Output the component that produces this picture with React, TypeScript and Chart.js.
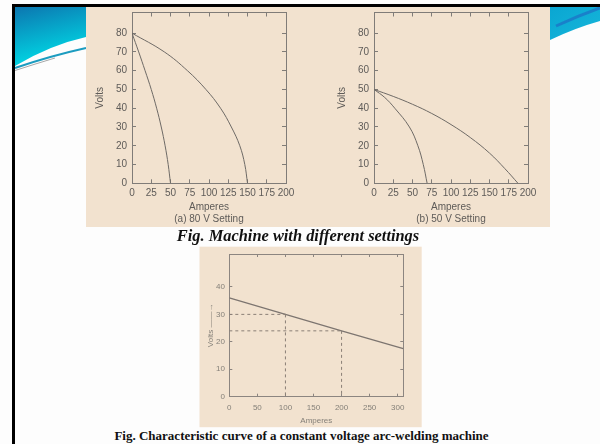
import React, { useEffect, useRef } from "react";
import { Chart, registerables } from "chart.js";

Chart.register(...registerables);

// ---------- data ----------
const ampTicks = [0, 25, 50, 75, 100, 125, 150, 175, 200];
const voltTicks = [0, 10, 20, 30, 40, 50, 60, 70, 80];

const set80InnerAmps = [0, 8.7, 17, 25, 32, 38, 43, 47, 50];
const set80InnerVolts = [80, 70, 60, 50, 40, 30, 20, 10, 0];
const set80OuterAmps = [0, 42, 72, 96, 115, 129, 140, 146.5, 150];
const set80OuterVolts = [80, 70, 60, 50, 40, 30, 20, 10, 0];

const set50InnerAmps = [0, 14, 27, 46, 57, 64, 69];
const set50InnerVolts = [50, 45.7, 40, 30, 20, 10, 0];
const set50OuterAmps = [0, 25, 50, 75, 100, 125, 150, 170, 187];
const set50OuterVolts = [50, 46.3, 42.1, 37.2, 31.3, 24.4, 16.1, 7.8, 0];

const cvAmps = [0, 100, 200, 310];
const cvVolts = [36, 30, 24, 17.5];
const cvAmpTicks = [0, 50, 100, 150, 200, 250, 300];
const cvVoltTicks = [0, 10, 20, 30, 40];
const cvMarkIndex = [1, 2]; // points of cvAmps/cvVolts with dashed guides

// ---------- helpers ----------
const pts = (xs: number[], ys: number[]) => xs.map((x, i) => ({ x, y: ys[i] }));

type Cfg = {
  xMax: number;
  yMax: number;
  xTicks: number[];
  yTicks: number[];
  datasets: any[];
  yWidth: number;
  xHeight: number;
  padding: { left: number; right: number; top: number; bottom: number };
  fontSize: number;
  textColor: string;
  axisColor: string;
  tickLen: number;
  xTickPad: number;
  yTickPad: number;
  xTitle: string | string[];
  yTitle: string;
  yTitlePad: number;
  family: string;
};

const noPad = (s: any) => {
  s.paddingTop = 0;
  s.paddingBottom = 0;
  s.paddingLeft = 0;
  s.paddingRight = 0;
};

function buildConfig(c: Cfg): any {
  const font = { family: c.family, size: c.fontSize, lineHeight: 1.2 };
  const grid = {
    drawOnChartArea: false,
    drawTicks: true,
    tickLength: -c.tickLen,
    color: c.axisColor,
    lineWidth: 1,
  };
  const border = { display: true, color: c.axisColor, width: 1 };
  const setX = (s: any) => {
    s.ticks = c.xTicks.map((v) => ({ value: v }));
  };
  const setY = (s: any) => {
    s.ticks = c.yTicks.map((v) => ({ value: v }));
  };
  return {
    type: "line",
    data: { datasets: c.datasets },
    options: {
      animation: false,
      responsive: false,
      maintainAspectRatio: false,
      devicePixelRatio: 1,
      layout: { padding: c.padding },
      plugins: { legend: { display: false }, tooltip: { enabled: false }, title: { display: false } },
      elements: { point: { radius: 0 } },
      scales: {
        x: {
          type: "linear",
          position: "bottom",
          min: 0,
          max: c.xMax,
          afterBuildTicks: setX,
          afterFit: (s: any) => {
            s.height = c.xHeight;
            noPad(s);
          },
          grid,
          border,
          ticks: {
            autoSkip: false,
            maxRotation: 0,
            minRotation: 0,
            padding: c.xTickPad,
            color: c.textColor,
            font,
          },
          title: {
            display: true,
            text: c.xTitle,
            color: c.textColor,
            font,
            padding: { top: 0, bottom: 0 },
          },
        },
        x2: {
          type: "linear",
          position: "top",
          min: 0,
          max: c.xMax,
          afterBuildTicks: setX,
          afterFit: (s: any) => {
            s.height = 0;
            noPad(s);
          },
          grid,
          border,
          ticks: { display: false },
        },
        y: {
          type: "linear",
          position: "left",
          min: 0,
          max: c.yMax,
          afterBuildTicks: setY,
          afterFit: (s: any) => {
            s.width = c.yWidth;
            noPad(s);
          },
          grid,
          border,
          ticks: { padding: c.yTickPad, color: c.textColor, font, autoSkip: false },
          title: {
            display: true,
            text: c.yTitle,
            color: c.textColor,
            font,
            padding: { top: c.yTitlePad, bottom: 0 },
          },
        },
        y2: {
          type: "linear",
          position: "right",
          min: 0,
          max: c.yMax,
          afterBuildTicks: setY,
          afterFit: (s: any) => {
            s.width = 0;
            noPad(s);
          },
          grid,
          border,
          ticks: { display: false },
        },
      },
    },
  };
}

function ChartBox(props: { left: number; top: number; width: number; height: number; cfg: Cfg }) {
  const ref = useRef<HTMLCanvasElement | null>(null);
  useEffect(() => {
    if (!ref.current) return;
    const chart = new Chart(ref.current, buildConfig(props.cfg));
    return () => chart.destroy();
  }, []);
  return (
    <canvas
      ref={ref}
      width={props.width}
      height={props.height}
      style={{
        position: "absolute",
        left: props.left,
        top: props.top,
        width: props.width,
        height: props.height,
      }}
    />
  );
}

const curveStyle = {
  borderColor: "#6e6a66",
  borderWidth: 1,
  tension: 0.4,
  pointRadius: 0,
  fill: false,
};

const TOP_FONT = "'Liberation Sans', Arial, sans-serif";

const cfg80: Cfg = {
  xMax: 200,
  yMax: 91,
  xTicks: ampTicks,
  yTicks: voltTicks,
  datasets: [
    { ...curveStyle, data: pts(set80InnerAmps, set80InnerVolts) },
    { ...curveStyle, data: pts(set80OuterAmps, set80OuterVolts) },
  ],
  yWidth: 46,
  xHeight: 41.7,
  padding: { left: 0, right: 22, top: 5.5, bottom: 2 },
  fontSize: 10,
  textColor: "#5e5b58",
  axisColor: "#807c78",
  tickLen: 4,
  xTickPad: 8,
  yTickPad: 9,
  xTitle: ["Amperes", "(a) 80 V Setting"],
  yTitle: "Volts",
  yTitlePad: 8,
  family: TOP_FONT,
};

const cfg50: Cfg = {
  ...cfg80,
  datasets: [
    { ...curveStyle, data: pts(set50InnerAmps, set50InnerVolts) },
    { ...curveStyle, data: pts(set50OuterAmps, set50OuterVolts) },
  ],
  yWidth: 66,
  xTitle: ["Amperes", "(b) 50 V Setting"],
  yTitlePad: 28,
};

const guideStyle = {
  borderColor: "#8a7f76",
  borderWidth: 1,
  borderDash: [3, 3],
  pointRadius: 0,
  fill: false,
  tension: 0,
};

const guideSets = cvMarkIndex.flatMap((i) => [
  { ...guideStyle, data: [{ x: 0, y: cvVolts[i] }, { x: cvAmps[i], y: cvVolts[i] }] },
  { ...guideStyle, data: [{ x: cvAmps[i], y: cvVolts[i] }, { x: cvAmps[i], y: 0 }] },
]);

const cfgCV: Cfg = {
  xMax: 310,
  yMax: 52,
  xTicks: cvAmpTicks,
  yTicks: cvVoltTicks,
  datasets: [
    ...guideSets,
    { borderColor: "#7d7570", borderWidth: 1.3, pointRadius: 0, fill: false, tension: 0, data: pts(cvAmps, cvVolts) },
  ],
  yWidth: 29.3,
  xHeight: 29.1,
  padding: { left: 0, right: 18.7, top: 7, bottom: 1.2 },
  fontSize: 8,
  textColor: "#858079",
  axisColor: "#8c8580",
  tickLen: 3,
  xTickPad: 9.5,
  yTickPad: 7.3,
  xTitle: "Amperes",
  yTitle: "Volts ——→",
  yTitlePad: 5.9,
  family: TOP_FONT,
};

export default function App() {
  const beige = "#f2e2cf";
  return (
    <div
      style={{
        position: "absolute",
        left: 0,
        top: 0,
        width: 600,
        height: 444,
        overflow: "hidden",
        background: "#fdfdfd",
      }}
    >
      {/* decorations */}
      <svg width={600} height={444} style={{ position: "absolute", left: 0, top: 0 }}>
        <defs>
          <linearGradient id="gl" x1="0" y1="0" x2="0.3" y2="1">
            <stop offset="0" stopColor="#0c76b0" />
            <stop offset="1" stopColor="#00dbe6" />
          </linearGradient>
          <linearGradient id="gr" x1="0" y1="0" x2="1" y2="1">
            <stop offset="0" stopColor="#0aa6d2" />
            <stop offset="1" stopColor="#17b6da" />
          </linearGradient>
        </defs>
        <path d="M15 7 L86 7 L86 37 Q50 45 15 66 Z" fill="url(#gl)" />
        <path d="M15 68 Q50 56 86 48" stroke="#1c9cc0" strokeWidth={2} fill="none" />
        <path d="M15 70.5 Q35 64 55 58" stroke="#a8a8a8" strokeWidth={1} fill="none" />
        <path d="M550 7 L600 7 L600 21 Q575 28 550 40 Z" fill="url(#gr)" />
        <path d="M556 26 Q578 16 600 8" stroke="#1e6ec4" strokeWidth={3} fill="none" opacity={0.7} />
        <rect x={12} y={4} width={588} height={3} fill="#000" />
        <rect x={12} y={4} width={3} height={440} fill="#000" />
        <rect x={86} y={7} width={464} height={220} fill={beige} />
        <rect x={199.5} y={246.7} width={222.2} height={180.5} fill={beige} />
      </svg>

      <ChartBox left={86} top={7} width={222} height={220} cfg={cfg80} />
      <ChartBox left={308} top={7} width={242} height={220} cfg={cfg50} />
      <ChartBox left={200} top={247} width={222} height={180} cfg={cfgCV} />

      <div
        style={{
          position: "absolute",
          left: 98,
          width: 400,
          top: 226,
          height: 19,
          lineHeight: "19px",
          textAlign: "center",
          whiteSpace: "nowrap",
          fontFamily: "'Liberation Serif', serif",
          fontWeight: "bold",
          fontStyle: "italic",
          fontSize: 16.4,
          color: "#111",
        }}
      >
        Fig. Machine with different settings
      </div>
      <div
        style={{
          position: "absolute",
          left: 60,
          width: 483,
          top: 427,
          height: 17,
          lineHeight: "17px",
          textAlign: "center",
          whiteSpace: "nowrap",
          fontFamily: "'Liberation Serif', serif",
          fontWeight: "bold",
          fontSize: 13,
          color: "#111",
        }}
      >
        Fig. Characteristic curve of a constant voltage arc-welding machine
      </div>
    </div>
  );
}
